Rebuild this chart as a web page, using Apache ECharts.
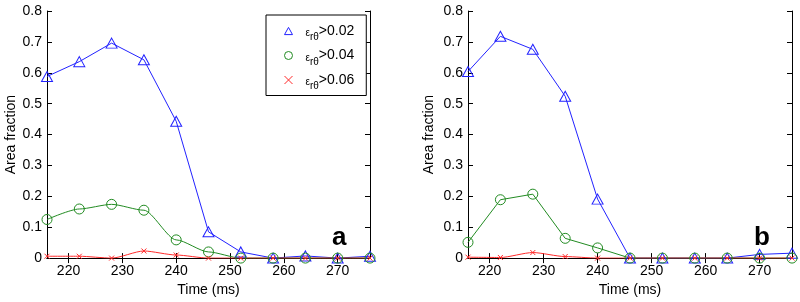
<!DOCTYPE html>
<html><head><meta charset="utf-8">
<script src="https://cdn.jsdelivr.net/npm/echarts@6/dist/echarts.min.js"></script>
<style>html,body{margin:0;padding:0;background:#fff}#c{width:800px;height:302px}</style>
</head><body><div id="c"></div>
<script>
const times = [216, 222, 228, 234, 240, 246, 252, 258, 264, 270, 276];
const xTicks = [220, 230, 240, 250, 260, 270];
const seriesNames = ['e02', 'e04', 'e06'];
const legendLabels = ['>0.02', '>0.04', '>0.06'];
// panel a
const aBlue  = [0.588, 0.636, 0.696, 0.642, 0.443, 0.085, 0.020, 0.000, 0.007, 0.000, 0.006];
const aGreen = [0.125, 0.159, 0.174, 0.155, 0.059, 0.020, 0.000, 0.000, 0.000, 0.000, 0.000];
const aRed   = [0.006, 0.006, 0.000, 0.023, 0.010, 0.000, 0.000, 0.000, 0.000, 0.000, 0.000];
// panel b
const bBlue  = [0.604, 0.718, 0.676, 0.524, 0.191, 0.000, 0.000, 0.000, 0.000, 0.012, 0.016];
const bGreen = [0.051, 0.189, 0.207, 0.064, 0.033, 0.000, 0.000, 0.000, 0.000, 0.000, 0.000];
const bRed   = [0.003, 0.002, 0.018, 0.005, 0.000, 0.000, 0.000, 0.000, 0.000, 0.000, 0.000];

const BLUE = '#2222ff', GREEN = '#228b22', RED = '#ff2a2a';
const FONT = 'Liberation Sans';
const crossPath = 'path://M0,0L10,10M10,0L0,10';
const triPath = 'path://M5,0L10,9L0,9Z';

function pairs(v){ return times.map((t,i)=>[t, v[i]]); }

const grids = [
  {left: 47, right: 430, top: 11, bottom: 40},
  {left: 468, right: 8, top: 11, bottom: 41}
];
const xAxes = [], yAxes = [];
grids.forEach((g, gi) => {
  xAxes.push({
    type: 'value', gridIndex: gi, min: 216, max: 276, position: 'bottom',
    name: 'Time (ms)', nameLocation: 'middle', nameGap: 23,
    nameTextStyle: {fontFamily: FONT, fontSize: 14, color: '#000'},
    axisLine: {lineStyle: {color: '#000', width: 1}},
    axisTick: {inside: true, length: 5, customValues: xTicks, lineStyle: {color: '#000'}},
    axisLabel: {customValues: xTicks, fontFamily: FONT, fontSize: 14, color: '#000', margin: 6},
    splitLine: {show: false}
  });
  xAxes.push({
    type: 'value', gridIndex: gi, min: 216, max: 276, position: 'top',
    axisLine: {lineStyle: {color: '#000', width: 1}},
    axisTick: {inside: true, length: 5, customValues: xTicks, lineStyle: {color: '#000'}},
    axisLabel: {show: false}, splitLine: {show: false}
  });
  yAxes.push({
    type: 'value', gridIndex: gi, min: 0, max: 0.8, interval: 0.1, position: 'left',
    name: 'Area fraction', nameLocation: 'middle', nameGap: gi === 0 ? 26 : 32,
    nameTextStyle: {fontFamily: FONT, fontSize: 14, color: '#000'},
    axisLine: {show: true, lineStyle: {color: '#000', width: 1}},
    axisTick: {show: true, inside: true, length: 5, lineStyle: {color: '#000'}},
    axisLabel: {fontFamily: FONT, fontSize: 14, color: '#000', margin: 5},
    splitLine: {show: false}
  });
  yAxes.push({
    type: 'value', gridIndex: gi, min: 0, max: 0.8, interval: 0.1, position: 'right',
    axisLine: {show: true, lineStyle: {color: '#000', width: 1}},
    axisTick: {show: true, inside: true, length: 5, lineStyle: {color: '#000'}},
    axisLabel: {show: false}, splitLine: {show: false}
  });
});

function mk(name, data, gi, color, symbol, size, smooth){
  return {
    type: 'line', name: name, data: pairs(data),
    xAxisIndex: gi*2, yAxisIndex: gi*2,
    symbol: symbol, symbolSize: size, showAllSymbol: true,
    smooth: smooth, smoothMonotone: 'x', lineStyle: {color: color, width: 1},
    itemStyle: {color: 'rgba(0,0,0,0)', borderColor: color, borderWidth: 1},
    emphasis: {disabled: true}, animation: false, z: 3
  };
}

const series = [
  mk(seriesNames[0], aBlue, 0, BLUE, triPath, [11, 10], false),
  mk(seriesNames[1], aGreen, 0, GREEN, 'circle', 10, 0.25),
  mk(seriesNames[2], aRed, 0, RED, crossPath, 5, 0.25),
  mk(seriesNames[0], bBlue, 1, BLUE, triPath, [11, 10], false),
  mk(seriesNames[1], bGreen, 1, GREEN, 'circle', 10, false),
  mk(seriesNames[2], bRed, 1, RED, crossPath, 5, 0.25)
];

const rich = {
  e: {fontFamily: FONT, fontSize: 10, color: '#000', padding: [5,0,0,0]},
  s: {fontFamily: FONT, fontSize: 10, color: '#000', padding: [13,0,0,0]},
  t: {fontFamily: FONT, fontSize: 14, color: '#000', lineHeight: 20}
};

const chart = echarts.init(document.getElementById('c'), null, {renderer: 'canvas'});
chart.setOption({
  animation: false,
  backgroundColor: '#fff',
  grid: grids,
  xAxis: xAxes,
  yAxis: yAxes,
  legend: {
    orient: 'vertical', left: 266, top: 15,
    backgroundColor: '#fff', borderColor: '#000', borderWidth: 1,
    padding: [9, 12, 4, 18], itemGap: 6, itemWidth: 8, itemHeight: 8,
    selectedMode: false,
    data: [
      {name: seriesNames[0], icon: triPath, itemStyle: {color: 'rgba(0,0,0,0)', borderColor: BLUE, borderWidth: 1}},
      {name: seriesNames[1], icon: 'circle', itemStyle: {color: 'rgba(0,0,0,0)', borderColor: GREEN, borderWidth: 1}},
      {name: seriesNames[2], icon: crossPath, itemStyle: {color: 'rgba(0,0,0,0)', borderColor: RED, borderWidth: 1}}
    ],
    formatter: function(n){ const i = seriesNames.indexOf(n); return '{e|ε}{s|rθ}{t|' + legendLabels[i] + '}'; },
    textStyle: {rich: rich, padding: [0,0,0,8]}
  },
  graphic: [
    {type: 'text', left: 332, top: 225, style: {text: 'a', font: 'bold 26px "Liberation Sans"', fill: '#000'}},
    {type: 'text', left: 754, top: 225, style: {text: 'b', font: 'bold 26px "Liberation Sans"', fill: '#000'}}
  ],
  series: series
});
</script></body></html>
